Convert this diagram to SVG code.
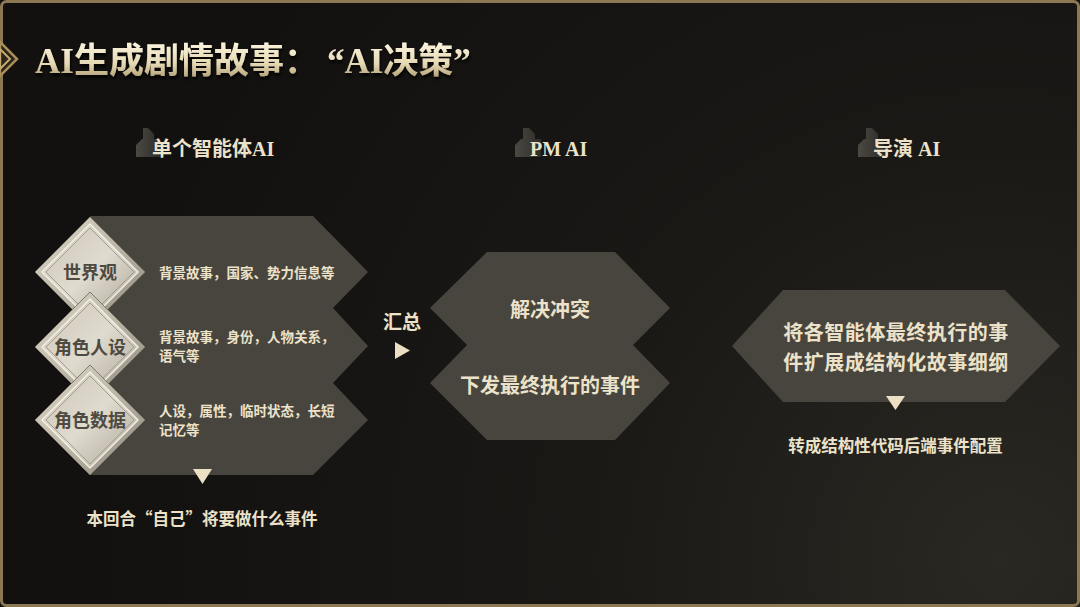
<svg xmlns="http://www.w3.org/2000/svg" width="1080" height="607" viewBox="0 0 1080 607">
<defs>
<radialGradient id="bg" cx="1000" cy="560" r="900" gradientUnits="userSpaceOnUse">
<stop offset="0" stop-color="#2a2822"/>
<stop offset="0.45" stop-color="#1a1916"/>
<stop offset="1" stop-color="#121110"/>
</radialGradient>
<linearGradient id="tg" x1="0" y1="0" x2="0" y2="1">
<stop offset="0" stop-color="#fbf4de"/>
<stop offset="0.55" stop-color="#e6d9b4"/>
<stop offset="1" stop-color="#a8956a"/>
</linearGradient>
<linearGradient id="dg" x1="0" y1="0" x2="1" y2="1">
<stop offset="0" stop-color="#dcd6c7"/>
<stop offset="0.5" stop-color="#bdb7a8"/>
<stop offset="1" stop-color="#8a8579"/>
</linearGradient>
<linearGradient id="dg2" x1="0" y1="0" x2="1" y2="1">
<stop offset="0" stop-color="#cbc5b7"/>
<stop offset="0.5" stop-color="#e0dbcf"/>
<stop offset="1" stop-color="#aaa496"/>
</linearGradient>
<linearGradient id="ig" x1="0" y1="0" x2="1" y2="0">
<stop offset="0" stop-color="#4c4943"/>
<stop offset="1" stop-color="#2e2c28"/>
</linearGradient>
<filter id="sh" x="-10%" y="-20%" width="120%" height="150%">
<feDropShadow dx="1" dy="3" stdDeviation="1.5" flood-color="#000" flood-opacity="0.8"/>
</filter>
<g id="dia">
<polygon points="0,-55 55,0 0,55 -55,0" fill="url(#dg)" stroke="#7f7a6f" stroke-width="1"/>
<polygon points="0,-48 48,0 0,48 -48,0" fill="url(#dg2)" stroke="#f3eee2" stroke-width="1.5"/>
<polygon points="0,-44 44,0 0,44 -44,0" fill="none" stroke="#a39d90" stroke-width="1"/>
</g>
</defs>
<style>
.cn{font-family:'Noto Sans CJK SC','Noto Sans',sans-serif;font-weight:bold;}
.mx{font-family:'Liberation Serif','Noto Sans CJK SC',serif;font-weight:bold;}
.cream{fill:#ece2c9;}
.panel{fill:#48453e;}
.dl{fill:#4f4a41;font-size:18px;}
.pt{font-size:13.5px;font-weight:600;}
.hd{font-size:20px;}
.icon{fill:url(#ig);}
.arr{fill:#ece0c4;}
</style>

<rect x="0" y="0" width="1080" height="607" fill="url(#bg)"/>
<rect x="1.5" y="1.5" width="1077" height="604" rx="5" fill="none" stroke="#8c7852" stroke-width="3"/>

<g id="title">
<polygon points="0,42 17,59 0,76" fill="#2a241a" stroke="#a88f5a" stroke-width="2.5"/>
<polygon points="0,49 10,59 0,69" fill="none" stroke="#c3a96e" stroke-width="2"/>
<text class="mx" x="35" y="73" font-size="35" fill="url(#tg)" filter="url(#sh)">AI生成剧情故事：<tspan dx="8">“AI决策”</tspan></text>
</g>

<g id="header-agent">
<polygon class="icon" points="143,128 148,128 154,134 154,139 160,139 160,157 136,157 136,145 142,139 143,139"/>
<text class="mx cream hd" x="152" y="156">单个智能体AI</text>
</g>
<g id="header-pm">
<polygon class="icon" points="523,128 529,128 535,134 535,139 541,139 541,157 515,157 515,145 521,139 523,139"/>
<text class="mx cream hd" x="530" y="156">PM AI</text>
</g>
<g id="header-director">
<polygon class="icon" points="866,128 872,128 878,134 878,139 884,139 884,157 858,157 858,145 864,139 866,139"/>
<text class="mx cream hd" x="873" y="156">导演 AI</text>
</g>

<g id="agent-panel">
<polygon class="panel" points="90,216 313,216 368,272 333,308 368,346 333,383 368,420 313,475 90,475"/>
<text class="cn cream pt" x="159" y="278">背景故事，国家、势力信息等</text>
<text class="cn cream pt" x="159" y="342">背景故事，身份，人物关系，</text>
<text class="cn cream pt" x="159" y="361">语气等</text>
<text class="cn cream pt" x="159" y="416">人设，属性，临时状态，长短</text>
<text class="cn cream pt" x="159" y="435">记忆等</text>
</g>
<g id="node-worldview">
<use href="#dia" x="90" y="272"/>
<text class="cn dl" x="90" y="278.5" text-anchor="middle">世界观</text>
</g>
<g id="node-persona">
<use href="#dia" x="90" y="347"/>
<text class="cn dl" x="90" y="353.5" text-anchor="middle">角色人设</text>
</g>
<g id="node-data">
<use href="#dia" x="90" y="420"/>
<text class="cn dl" x="90" y="426.5" text-anchor="middle">角色数据</text>
</g>
<g id="caption-agent">
<text class="cn cream" x="202" y="525" font-size="16.5" text-anchor="middle">本回合“自己”将要做什么事件</text>
</g>

<g id="node-pm">
<polygon class="panel" points="487,252 615,252 670,308 633,345 670,383 615,440 487,440 430,383 467,345 430,308"/>
<text class="cn cream" x="550" y="317" font-size="20" text-anchor="middle">解决冲突</text>
<text class="cn cream" x="550" y="393" font-size="20" text-anchor="middle">下发最终执行的事件</text>
</g>

<g id="node-director">
<polygon class="panel" points="783,290 1005,290 1060,346 1005,402 783,402 732,346"/>
<text class="cn cream" x="896" y="340" font-size="20" letter-spacing="0.5" text-anchor="middle">将各智能体最终执行的事</text>
<text class="cn cream" x="896" y="370" font-size="20" letter-spacing="0.5" text-anchor="middle">件扩展成结构化故事细纲</text>
</g>
<g id="caption-director">
<text class="cn cream" x="895.5" y="452" font-size="16.5" text-anchor="middle">转成结构性代码后端事件配置</text>
</g>

<g id="connectors">
<text class="cn cream" x="402" y="329" font-size="19" text-anchor="middle">汇总</text>
<polygon class="arr" points="395,342 410,350.5 395,359"/>
<polygon class="arr" points="193,469 212,469 202.5,484"/>
<polygon class="arr" points="886,396 905,396 895.5,410"/>
</g>
</svg>
